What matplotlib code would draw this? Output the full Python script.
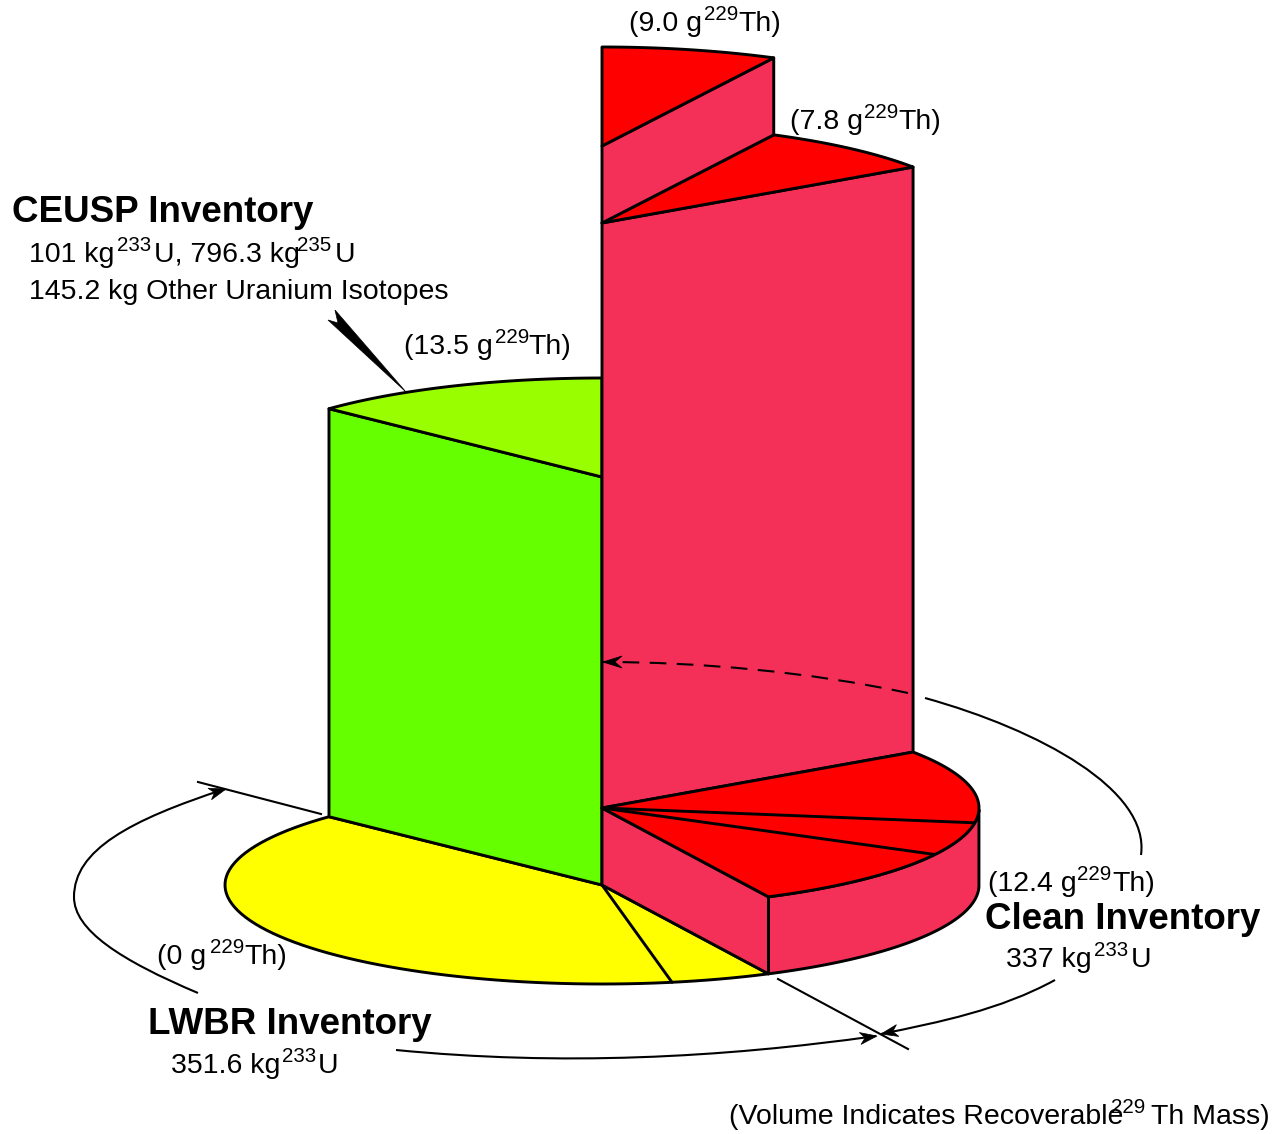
import numpy as np
import matplotlib
matplotlib.use("Agg")
import matplotlib.pyplot as plt
from matplotlib.patches import Polygon, PathPatch
from matplotlib.path import Path

plt.rcParams['font.family'] = ['Liberation Sans', 'DejaVu Sans']

# sector boundaries, degrees round the ellipse (clockwise on screen from +x)
LWBR_ANGLES = [63.8, 79.3, 223.6]
CEUSP_ANGLES = [223.6, 270.0]
CLEAN_ANGLES = [-34.4, 8.6, 28.0, 63.8]
UPPER_ANGLES = [-62.9, -34.4]
TOP_ANGLES = [-90.0, -62.9]

# heights of the columns above the base
CLEAN_HEIGHT = 77
CEUSP_HEIGHT = 408
UPPER_HEIGHT = 662
TOP_HEIGHT = 739

# x of the pie centre, y of the base centre, and ellipse radii
CX, CY, RX, RY = 602, 885, 377, 99

PINK = "#F43059"
RED = "#FF0000"
YELLOW = "#FFFF00"
GREEN = "#66FF00"
LIME = "#99FF00"
LW = 2.1

fig = plt.figure(figsize=(12.8, 11.34), dpi=100)
ax = fig.add_axes([0, 0, 1, 1])
ax.set_xlim(0, 1280)
ax.set_ylim(1134, 0)
ax.axis('off')


def pt(t, z=0):
    a = np.radians(t)
    return (CX + RX * np.cos(a), CY - z + RY * np.sin(a))


def arc(t0, t1, z=0):
    return [pt(t, z) for t in np.linspace(t0, t1, 80)]


def center(z=0):
    return (CX, CY - z)


def poly(points, color, lw=LW, z=2):
    ax.add_patch(Polygon(points, closed=True, facecolor=color, edgecolor='black',
                         linewidth=lw, joinstyle='round', zorder=z))


def sector(t0, t1, z, color):
    poly([center(z)] + arc(t0, t1, z), color)


def face(t, z0, z1, color):
    poly([center(z0), pt(t, z0), pt(t, z1), center(z1)], color)


def spoke(t, z):
    ax.plot(*zip(center(z), pt(t, z)), color='black', lw=LW, zorder=3, solid_capstyle='round')


def head(tip, frm, size=17, wide=6, notch=12):
    tip = np.array(tip, float)
    d = tip - np.array(frm, float)
    d = d / np.hypot(*d)
    n = np.array([-d[1], d[0]])
    ax.add_patch(Polygon([tip, tip - d * size + n * wide, tip - d * notch, tip - d * size - n * wide],
                         closed=True, facecolor='black', edgecolor='black', lw=0.5, zorder=6))


def curve(points, lw=1.5, ls='-'):
    codes = [Path.MOVETO] + [Path.CURVE4] * (len(points) - 1)
    ax.add_patch(PathPatch(Path(points, codes), facecolor='none', edgecolor='black',
                           lw=lw, ls=ls, zorder=5))


def runs(y, items, size=20.5):
    # items are (x, text); superscripts sit 11 px higher in smaller type
    for x, s in items:
        if s.isdigit() and len(s) == 3:
            ax.text(x, y - 11, s, fontsize=size * 0.72, ha='left', va='baseline', zorder=7)
        else:
            ax.text(x, y, s, fontsize=size, ha='left', va='baseline', zorder=7)


def title(x, y, s):
    ax.text(x, y, s, fontsize=26.5, fontweight='bold', ha='left', va='baseline', zorder=7)


# base and columns, back to front
sector(LWBR_ANGLES[0], LWBR_ANGLES[-1], 0, YELLOW)
spoke(LWBR_ANGLES[1], 0)

face(CEUSP_ANGLES[0], 0, CEUSP_HEIGHT, GREEN)
sector(CEUSP_ANGLES[0], CEUSP_ANGLES[1], CEUSP_HEIGHT, LIME)

face(CLEAN_ANGLES[0], CLEAN_HEIGHT, UPPER_HEIGHT, PINK)
sector(UPPER_ANGLES[0], UPPER_ANGLES[1], UPPER_HEIGHT, RED)
face(TOP_ANGLES[1], UPPER_HEIGHT, TOP_HEIGHT, PINK)
sector(TOP_ANGLES[0], TOP_ANGLES[1], TOP_HEIGHT, RED)

poly(arc(1, CLEAN_ANGLES[-1], 0) + arc(CLEAN_ANGLES[-1], 1, CLEAN_HEIGHT), PINK)
face(CLEAN_ANGLES[-1], 0, CLEAN_HEIGHT, PINK)
sector(CLEAN_ANGLES[0], CLEAN_ANGLES[-1], CLEAN_HEIGHT, RED)
spoke(CLEAN_ANGLES[1], CLEAN_HEIGHT)
spoke(CLEAN_ANGLES[2], CLEAN_HEIGHT)

# brackets and leaders
ax.plot([198, 321], [782, 814], color='black', lw=1.5, zorder=5)
ax.plot([778, 908], [979, 1049], color='black', lw=1.5, zorder=5)

curve([(198, 993), (120, 960), (74, 930), (74, 897), (74, 850), (130, 820), (225, 789)])
head((226, 789), (200, 797))
curve([(396, 1050), (560, 1066), (720, 1058), (876, 1036)])
head((877, 1036), (850, 1040))
curve([(1055, 980), (1000, 1010), (940, 1022), (881, 1034)])
head((881, 1034), (905, 1029))
curve([(1141, 855), (1150, 790), (1040, 730), (925, 698)])
curve([(908, 693), (810, 672), (700, 662), (603, 662)], lw=1.5, ls=(0, (8, 5)))
head((603, 662), (625, 662), size=19, wide=6)

ax.add_patch(Polygon([(406, 392), (335, 310), (338, 323), (328, 320)], closed=True,
                     facecolor='black', edgecolor='black', lw=0.5, zorder=6))

# text
runs(31, [(629, "(9.0 g"), (704, "229"), (738, "Th)")])
runs(129, [(790, "(7.8 g"), (864, "229"), (898, "Th)")])
runs(354, [(404, "(13.5 g"), (495, "229"), (528, "Th)")])
runs(964, [(157, "(0 g"), (210, "229"), (244, "Th)")])
runs(891, [(988, "(12.4 g"), (1077, "229"), (1112, "Th)")])

title(12, 222, "CEUSP Inventory")
runs(262, [(29, "101 kg"), (117, "233"), (154, "U, 796.3 kg"), (297, "235"), (335, "U")])
runs(299, [(29, "145.2 kg Other Uranium Isotopes")])

title(148, 1034, "LWBR Inventory")
runs(1073, [(171, "351.6 kg"), (282, "233"), (318, "U")])

title(985, 929, "Clean Inventory")
runs(967, [(1006, "337 kg"), (1094, "233"), (1131, "U")])

runs(1124, [(729, "(Volume Indicates Recoverable"), (1111, "229"), (1151, "Th Mass)")])

fig.savefig("out.png", dpi=100, facecolor='white')
